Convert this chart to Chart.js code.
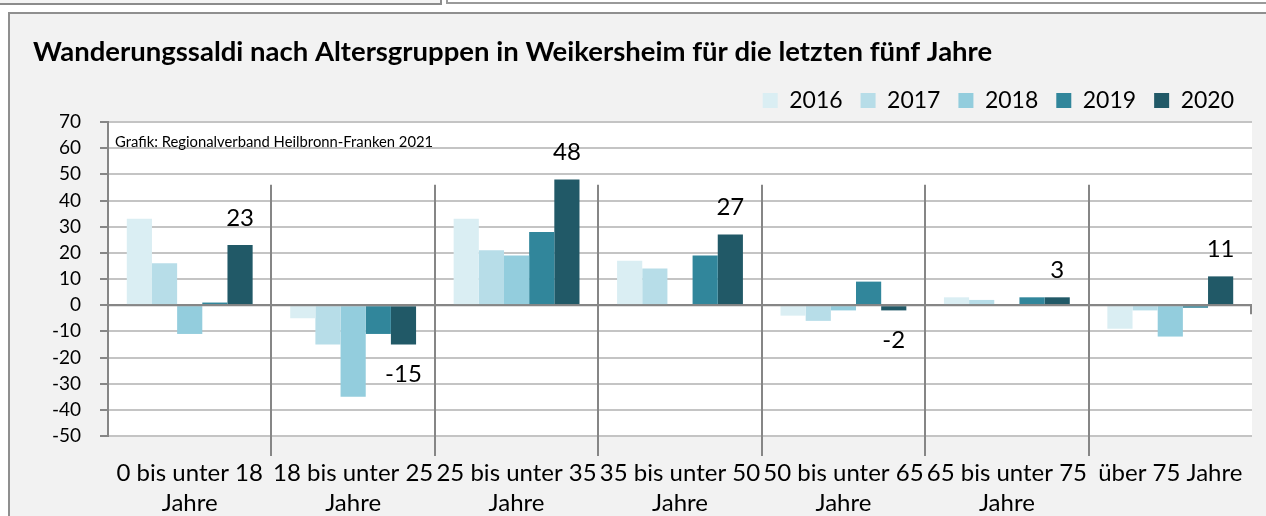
<!DOCTYPE html>
<html lang="de">
<head>
<meta charset="utf-8">
<title>Wanderungssaldi Weikersheim</title>
<script src="https://cdn.jsdelivr.net/npm/chart.js@4.4.1/dist/chart.umd.min.js"></script>
<style>
  html, body { margin: 0; padding: 0; background: #ffffff; }
  #stage { position: relative; width: 1266px; height: 516px; overflow: hidden; }
  .oben-links { position: absolute; left: -4px; top: -12px; width: 442px; height: 13px; border: 2px solid #8c8c8c; background: #f4f4f4; }
  .oben-rechts { position: absolute; left: 446px; top: -12px; width: 900px; height: 12px; border: 2px solid #9a9a9a; background: #ffffff; }
  .panel { position: absolute; left: 8px; top: 12px; width: 1300px; height: 600px; border: 2px solid #8f8f8f; background: #f2f2f2; }
  #chart { position: absolute; left: 0; top: 0; }
</style>
</head>
<body>
<div id="stage">
  <div class="oben-links"></div>
  <div class="oben-rechts"></div>
  <div class="panel"></div>
  <canvas id="chart" width="1266" height="516"></canvas>
</div>
<script>
// Daten
const ageGroups = [
  ['0 bis unter 18', 'Jahre'],
  ['18 bis unter 25', 'Jahre'],
  ['25 bis unter 35', 'Jahre'],
  ['35 bis unter 50', 'Jahre'],
  ['50 bis unter 65', 'Jahre'],
  ['65 bis unter 75', 'Jahre'],
  'über 75 Jahre'
];
const years = ['2016', '2017', '2018', '2019', '2020'];
const saldo2016 = [33, -5, 33, 17, -4, 3, -9];
const saldo2017 = [16, -15, 21, 14, -6, 2, -2];
const saldo2018 = [-11, -35, 19, 0, -2, 0, -12];
const saldo2019 = [1, -11, 28, 19, 9, 3, -1];
const saldo2020 = [23, -15, 48, 27, -2, 3, 11];
const yearColors = ['#daeef3', '#b7dde8', '#93cddd', '#31869b', '#215967'];
const yMin = -50;
const yMax = 70;
const yStep = 10;

const fontFamily = "Lato, 'Liberation Sans', sans-serif";

// weisse Zeichenfläche hinter den Balken
const plotBackground = {
  id: 'plotBackground',
  beforeDraw(chart) {
    const { ctx, chartArea } = chart;
    ctx.save();
    ctx.fillStyle = '#ffffff';
    ctx.fillRect(chartArea.left, chartArea.top, chartArea.right - chartArea.left, chartArea.bottom - chartArea.top);
    ctx.restore();
  }
};

// Quellenangabe oben links im Diagramm
const sourceNote = {
  id: 'sourceNote',
  afterDraw(chart) {
    const { ctx, chartArea } = chart;
    ctx.save();
    ctx.font = '14.8px ' + fontFamily;
    ctx.fillStyle = '#000000';
    ctx.textAlign = 'left';
    ctx.textBaseline = 'middle';
    ctx.fillText('Grafik: Regionalverband Heilbronn-Franken 2021', chartArea.left + 7, chartArea.top + 20);
    ctx.restore();
  }
};

// Werte nur für das letzte Jahr beschriften
const lastYearLabels = {
  id: 'lastYearLabels',
  afterDatasetsDraw(chart) {
    const { ctx } = chart;
    const dsIndex = chart.data.datasets.length - 1;
    const meta = chart.getDatasetMeta(dsIndex);
    const values = chart.data.datasets[dsIndex].data;
    ctx.save();
    ctx.font = '24px ' + fontFamily;
    ctx.fillStyle = '#000000';
    ctx.textAlign = 'center';
    ctx.textBaseline = 'middle';
    meta.data.forEach((bar, i) => {
      const v = values[i];
      const y = v >= 0 ? bar.y - 27 : bar.y + 30;
      ctx.fillText(String(v), bar.x, y);
    });
    ctx.restore();
  }
};

// senkrechte Trennlinien zwischen den Altersgruppen
const groupDividers = {
  id: 'groupDividers',
  afterDatasetsDraw(chart) {
    const { ctx, chartArea, scales } = chart;
    const x = scales.x;
    const y = scales.y;
    const zero = y.getPixelForValue(0);
    ctx.save();
    ctx.strokeStyle = '#868686';
    ctx.lineWidth = 2;
    ctx.beginPath();
    ctx.moveTo(chartArea.left, zero);
    ctx.lineTo(chartArea.right, zero);
    for (let i = 0; i < ageGroups.length - 1; i++) {
      const px = Math.round((x.getPixelForValue(i) + x.getPixelForValue(i + 1)) / 2);
      ctx.moveTo(px, y.getPixelForValue(46));
      ctx.lineTo(px, chartArea.bottom + 20);
    }
    ctx.moveTo(chartArea.right - 1, zero);
    ctx.lineTo(chartArea.right - 1, zero + 9);
    ctx.stroke();
    ctx.restore();
  }
};

function buildDatasets() {
  const series = [saldo2016, saldo2017, saldo2018, saldo2019, saldo2020];
  return series.map((data, i) => ({
    label: years[i],
    data: data,
    backgroundColor: yearColors[i],
    borderWidth: 0,
    categoryPercentage: 0.77,
    barPercentage: 1.0
  }));
}

function initializeSaldoChart() {
  const chartElement = document.getElementById('chart');
  if (!chartElement || typeof Chart === 'undefined') {
    console.warn('Chart.js oder Canvas fehlt');
    return;
  }

  new Chart(chartElement, {
    type: 'bar',
    data: {
      labels: ageGroups,
      datasets: buildDatasets()
    },
    options: {
      responsive: false,
      animation: false,
      layout: {
        padding: { top: 13, left: 33, right: 14, bottom: 0 }
      },
      scales: {
        x: {
          grid: { display: false, drawTicks: false },
          border: { display: false },
          ticks: {
            autoSkip: false,
            maxRotation: 0,
            minRotation: 0,
            padding: 22,
            color: '#000000',
            font: { family: fontFamily, size: 24, lineHeight: 1.25 }
          },
          afterFit(scale) {
            scale.height = 80;
            scale.paddingLeft = 0;
            scale.paddingRight = 0;
          }
        },
        y: {
          min: yMin,
          max: yMax,
          ticks: {
            stepSize: yStep,
            padding: 19,
            color: '#000000',
            font: { family: fontFamily, size: 19 }
          },
          grid: {
            color: (ctx) => (ctx.tick && ctx.tick.value === 0 ? '#868686' : '#c4c4c4'),
            lineWidth: 2,
            tickLength: 8,
            tickColor: '#868686'
          },
          border: { color: '#868686', width: 2 },
          afterFit(scale) {
            scale.width = 75;
          }
        }
      },
      plugins: {
        title: {
          display: true,
          text: 'Wanderungssaldi nach Altersgruppen in Weikersheim für die letzten fünf Jahre',
          align: 'start',
          color: '#000000',
          font: { family: fontFamily, size: 27.5, weight: 'bold', lineHeight: 1.2 },
          padding: { top: 22.5, bottom: 2.5 }
        },
        legend: {
          position: 'top',
          align: 'end',
          labels: {
            boxWidth: 15,
            boxHeight: 15,
            padding: 18,
            color: '#000000',
            font: { family: fontFamily, size: 23 }
          }
        },
        tooltip: { enabled: false }
      }
    },
    plugins: [plotBackground, sourceNote, lastYearLabels, groupDividers]
  });
}

initializeSaldoChart();
</script>
</body>
</html>
